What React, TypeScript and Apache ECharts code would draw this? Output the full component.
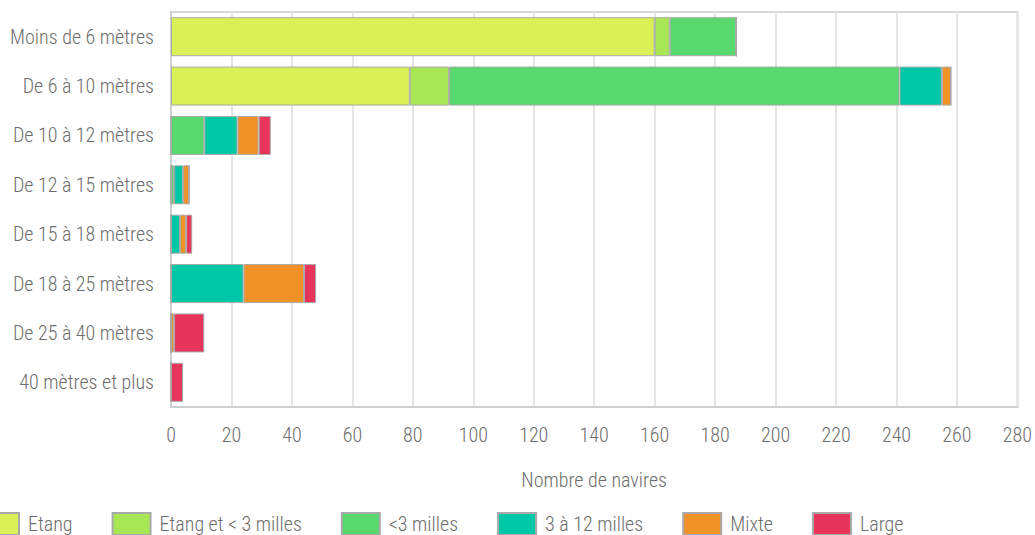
import React, { useEffect, useRef } from "react";
import * as echarts from "echarts";

const categories = [
  "Moins de 6 mètres",
  "De 6 à 10 mètres",
  "De 10 à 12 mètres",
  "De 12 à 15 mètres",
  "De 15 à 18 mètres",
  "De 18 à 25 mètres",
  "De 25 à 40 mètres",
  "40 mètres et plus",
];

const seriesNames = ["Etang", "Etang et < 3 milles", "<3 milles", "3 à 12 milles", "Mixte", "Large"];
const etang = [160, 79, 0, 0, 0, 0, 0, 0];
const etang3 = [5, 13, 0, 0, 0, 0, 0, 0];
const moins3 = [22, 149, 11, 1, 0, 0, 0, 0];
const de3a12 = [0, 14, 11, 3, 3, 24, 0, 0];
const mixte = [0, 3, 7, 2, 2, 20, 1, 0];
const large = [0, 0, 4, 0, 2, 4, 10, 4];
const seriesData = [etang, etang3, moins3, de3a12, mixte, large];
const colors = ["#d9f057", "#a8e655", "#57d96e", "#00c7a5", "#f09228", "#e6345a"];

const FONT = "'Liberation Sans Narrow', 'Roboto Condensed', 'Liberation Sans', sans-serif";
const TEXT = "#6e6e6e";

export default function App() {
  const ref = useRef<HTMLDivElement>(null);
  useEffect(() => {
    document.body.style.margin = "0";
    const chart = echarts.init(ref.current!, null, { renderer: "svg" });
    chart.setOption({
      animation: false,
      textStyle: { fontFamily: FONT },
      grid: {
        left: 171,
        right: 16,
        top: 12,
        bottom: 128,
        show: true,
        borderColor: "#d8d8d8",
        borderWidth: 2,
      },
      legend: {
        left: -20,
        top: 512,
        padding: 0,
        itemWidth: 38,
        itemHeight: 22,
        itemGap: 39,
        icon: "rect",
        textStyle: { fontFamily: FONT, fontSize: 20, color: TEXT, fontWeight: 300, padding: [0, 0, 0, 4] },
        data: seriesNames,
      },
      xAxis: {
        type: "value",
        min: 0,
        max: 280,
        interval: 20,
        name: "Nombre de navires",
        nameLocation: "middle",
        nameGap: 63,
        nameTextStyle: { fontFamily: FONT, fontSize: 20, color: TEXT, fontWeight: 300 },
        axisLine: { show: true, lineStyle: { color: "#d0d0d0", width: 2 } },
        axisTick: { show: false },
        axisLabel: { fontFamily: FONT, fontSize: 20, color: TEXT, margin: 18, fontWeight: 300 },
        splitLine: { show: true, lineStyle: { color: "#e6e6e6", width: 2 } },
      },
      yAxis: {
        type: "category",
        data: categories,
        inverse: true,
        axisLine: { show: true, lineStyle: { color: "#d0d0d0", width: 2 } },
        axisTick: { show: false },
        axisLabel: { fontFamily: FONT, fontSize: 20, color: TEXT, margin: 17, fontWeight: 300 },
        splitLine: { show: false },
      },
      series: seriesNames.map((name, i) => ({
        name,
        type: "bar",
        stack: "total",
        barWidth: 39,
        data: seriesData[i],
        itemStyle: { color: colors[i], borderColor: "#a9a9a9", borderWidth: 1 },
      })),
    });
    return () => chart.dispose();
  }, []);
  return <div ref={ref} style={{ width: 1035, height: 535 }} />;
}
